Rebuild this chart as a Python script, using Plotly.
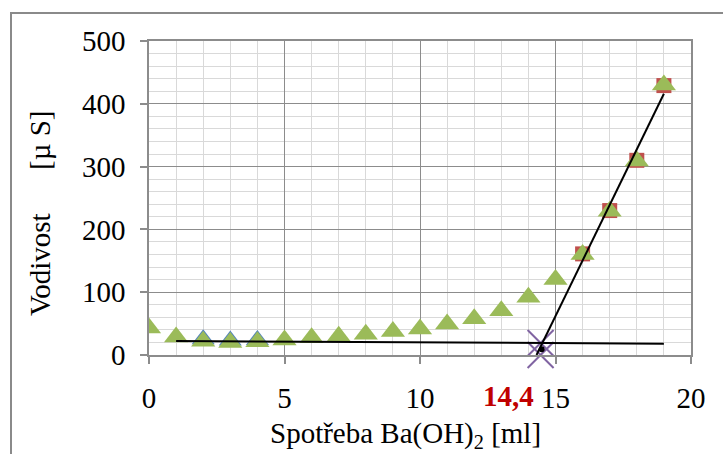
import plotly.graph_objects as go

# data
x_all = list(range(0, 20))
y_green = [43, 28.6, 22, 20, 21, 24, 27.3, 29.7, 32.9, 37.4, 41.6, 49.3, 57.8, 70.3, 92, 120.4, 160, 229, 309, 430]
x_blue = [2, 3, 4]
y_blue = [25, 23, 24]
x_red = [16, 17, 18, 19]
y_red = [161, 230, 310, 429]
line1_x = [1, 19]
line1_y = [22.3, 18]
line2_x = [14.3, 19]
line2_y = [0, 416]
cross_x = [14.45, 14.45]
cross_y = [19, 0]
dot_x = [14.49]
dot_y = [9]
label_value = "14,4"
label_x = 13.28

W, H = 723, 454
L, R, T, B = 149, 32, 41, 99
pw, ph = W - L - R, H - T - B

def px2paper_x(p):
    return (p - L) / pw

def px2paper_y(p):
    return (H - B - p) / ph

FONT = "Liberation Serif, Times New Roman, serif"
FS = 29
GRID_MAJ = "#8c8c8c"
GRID_MIN = "#d9d9d9"

fig = go.Figure()
fig.add_trace(go.Scatter(x=x_blue, y=y_blue, mode="markers",
                         marker=dict(symbol="triangle-up", size=20, color="#4f81bd"), showlegend=False))
fig.add_trace(go.Scatter(x=x_red, y=y_red, mode="markers",
                         marker=dict(symbol="square", size=15, color="#c0504d"), showlegend=False))
fig.add_trace(go.Scatter(x=x_all, y=y_green, mode="markers",
                         marker=dict(symbol="triangle-up", size=21, color="#9bbb59"), showlegend=False))
fig.add_trace(go.Scatter(x=cross_x, y=cross_y, mode="markers",
                         marker=dict(symbol="x-thin", size=26, line=dict(color="#8064a2", width=2)),
                         showlegend=False, cliponaxis=False))
fig.add_trace(go.Scatter(x=line1_x, y=line1_y, mode="lines", line=dict(color="black", width=2), showlegend=False))
fig.add_trace(go.Scatter(x=line2_x, y=line2_y, mode="lines", line=dict(color="black", width=2), showlegend=False))
fig.add_trace(go.Scatter(x=dot_x, y=dot_y, mode="markers", marker=dict(size=6, color="black"), showlegend=False))

axis_common = dict(showline=True, linecolor=GRID_MAJ, linewidth=1.5, mirror=True,
                   ticks="outside", ticklen=7, tickcolor=GRID_MAJ, tickwidth=1.5,
                   gridcolor=GRID_MAJ, gridwidth=1, zeroline=False,
                   tickfont=dict(family=FONT, size=FS, color="black"))

fig.update_xaxes(range=[0, 20], dtick=5, tick0=0, ticklabelstandoff=9,
                 minor=dict(dtick=1, showgrid=True, gridcolor=GRID_MIN, gridwidth=1, ticks=""),
                 **axis_common)
fig.update_yaxes(range=[0, 500], dtick=100, tick0=0, ticklabelstandoff=9,
                 minor=dict(dtick=20, showgrid=True, gridcolor=GRID_MIN, gridwidth=1, ticks=""),
                 **axis_common)

fig.add_annotation(text="Vodivost\u00a0\u00a0\u00a0\u00a0\u00a0\u00a0[\u00b5\u00a0S]", textangle=-90,
                   xref="paper", yref="paper", x=px2paper_x(40), y=px2paper_y(213),
                   xanchor="center", yanchor="middle", showarrow=False,
                   font=dict(family=FONT, size=FS, color="black"))
fig.add_annotation(text="Spot\u0159eba Ba(OH)<sub>2</sub> [ml]",
                   xref="paper", yref="paper", x=px2paper_x(405), y=px2paper_y(435),
                   xanchor="center", yanchor="middle", showarrow=False,
                   font=dict(family=FONT, size=FS, color="black"))
fig.add_annotation(text="<b>" + label_value + "</b>",
                   xref="x", yref="paper", x=label_x, y=px2paper_y(396),
                   xanchor="center", yanchor="middle", showarrow=False,
                   font=dict(family=FONT, size=FS, color="#c00000"))

# outer chart border (extends beyond right/bottom edges)
fig.add_shape(type="rect", xref="paper", yref="paper",
              x0=px2paper_x(11), x1=px2paper_x(W + 5), y0=px2paper_y(H + 5), y1=px2paper_y(13),
              line=dict(color="#8a8a8a", width=2), fillcolor="rgba(0,0,0,0)", layer="below")

fig.update_layout(width=W, height=H, margin=dict(l=L, r=R, t=T, b=B),
                  paper_bgcolor="white", plot_bgcolor="white")

fig.write_html("out.html")
